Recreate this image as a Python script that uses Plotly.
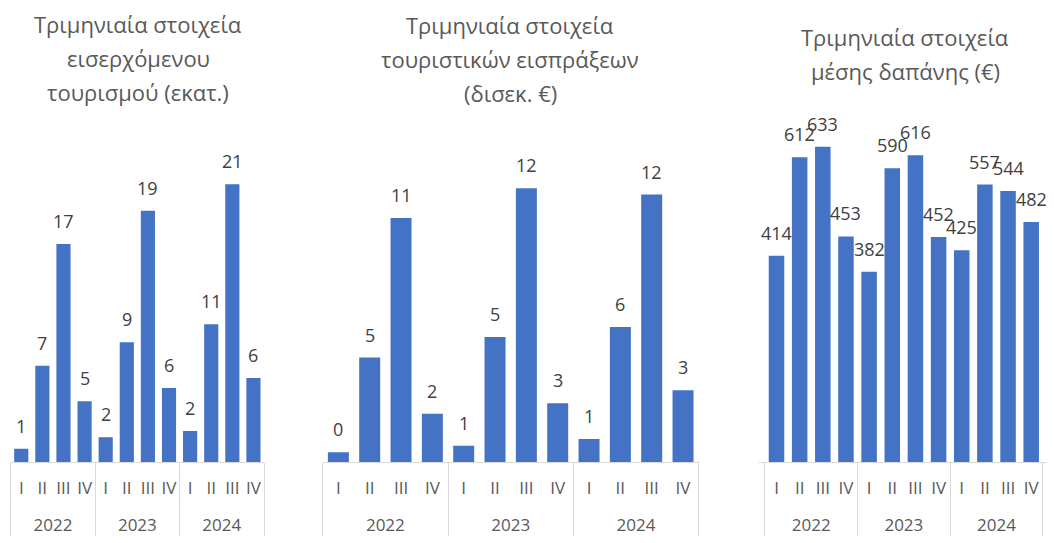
import plotly.graph_objects as go

years = ["2022"] * 4 + ["2023"] * 4 + ["2024"] * 4
quarters = ["I", "II", "III", "IV"] * 3

arrivals = [1.02, 7.41, 16.77, 4.67, 1.90, 9.21, 19.33, 5.69, 2.38, 10.59, 21.36, 6.46]
receipts = [0.42, 4.54, 10.61, 2.10, 0.71, 5.43, 11.90, 2.55, 1.00, 5.87, 11.63, 3.12]
spending = [414, 612, 633, 453, 382, 590, 616, 452, 425, 557, 544, 482]

titles = [
    ["Τριμηνιαία στοιχεία", "εισερχόμενου", "τουρισμού (εκατ.)"],
    ["Τριμηνιαία στοιχεία", "τουριστικών εισπράξεων", "(δισεκ. €)"],
    ["Τριμηνιαία στοιχεία", "μέσης δαπάνης (€)"],
]

# the page body has an 8px margin, so the figure is drawn offset by 8px
OFF = 8
W, H = 1054 - OFF, 543 - OFF
FONT = "Open Sans"
BAR = "#4472C4"
GRID = "#D9D9D9"
TXT = "#595959"
LBL = "#404040"


def px_x(p):
    return (p - OFF) / W


def px_y(p):
    return 1 - (p - OFF) / H


series = [arrivals, receipts, spending]
x_px = [(10.7, 264.0), (322.7, 698.7), (759.0, 1048.7)]
y_max = [362 / 13.0, 362 / 23.0, 362 / 0.498]
title_top = [24, 25, 37]
title_cx = [138, 510, 905]
y_dom = [px_y(462), px_y(100)]

fig = go.Figure()
annotations = []
for i, vals in enumerate(series):
    ax = "" if i == 0 else str(i + 1)
    fig.add_trace(go.Bar(
        x=[["<br>" + y for y in years], quarters], y=vals, width=0.67,
        marker=dict(color=BAR, line=dict(width=0)),
        xaxis="x" + ax, yaxis="y" + ax, showlegend=False,
        hoverinfo="y",
    ))
    for j, v in enumerate(vals):
        annotations.append(dict(
            x=j, y=v, xref="x" + ax, yref="y" + ax, text=f"{v:.0f}",
            showarrow=False, yanchor="middle", yshift=23,
            font=dict(family=FONT, size=18, color=LBL),
        ))
    for k, line in enumerate(titles[i]):
        annotations.append(dict(
            x=px_x(title_cx[i]), y=px_y(title_top[i] + 34 * k),
            xref="paper", yref="paper", text=line, showarrow=False,
            xanchor="center", yanchor="middle",
            font=dict(family=FONT, size=22, color=TXT),
        ))
    fig.layout["xaxis" + ax] = dict(
        domain=[px_x(x_px[i][0]), px_x(x_px[i][1])], anchor="y" + ax,
        type="multicategory", showline=True, linecolor=GRID, linewidth=1,
        showdividers=True, dividercolor=GRID, dividerwidth=1,
        ticks="", tickangle=0, automargin=False, ticklabelstandoff=11,
        tickfont=dict(family=FONT, size=17, color=TXT),
        showgrid=False, zeroline=False, fixedrange=True,
    )
    fig.layout["yaxis" + ax] = dict(
        domain=list(y_dom), anchor="x" + ax, range=[0, y_max[i]],
        visible=False, showgrid=False, zeroline=False, fixedrange=True,
        automargin=False,
    )

fig.update_layout(
    width=W, height=H, margin=dict(l=0, r=0, t=0, b=0),
    paper_bgcolor="white", plot_bgcolor="white",
    annotations=annotations, font=dict(family=FONT, color=TXT),
)
fig.write_html("out.html")
